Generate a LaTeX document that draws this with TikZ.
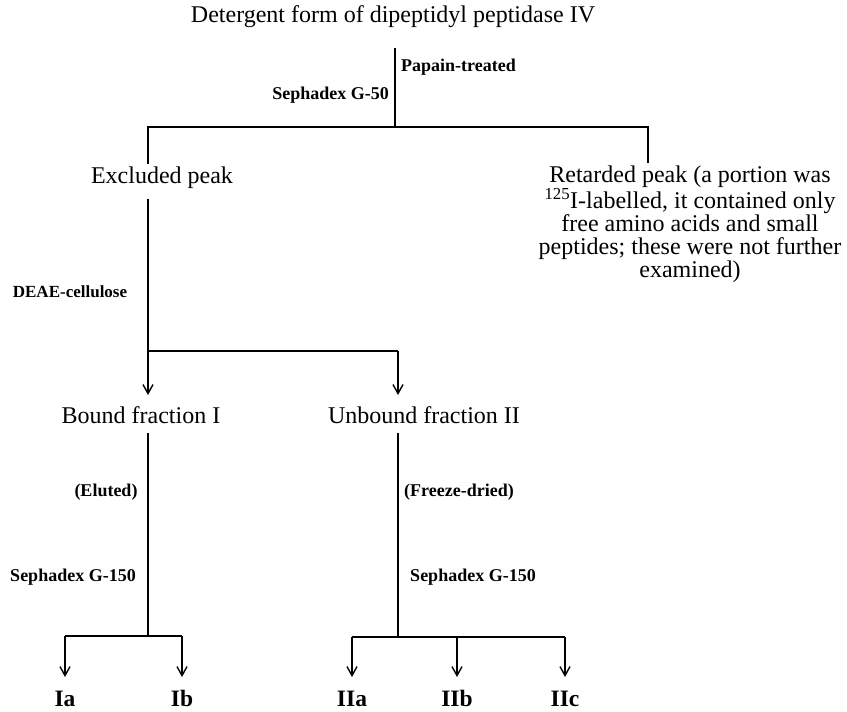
\documentclass[tikz,border=0pt]{standalone}
\usepackage{fontspec}
\setmainfont{Liberation Serif}
\usetikzlibrary{arrows.meta}
\begin{document}
\begin{tikzpicture}[x=1pt,y=-1pt,
  main/.style={font=\fontsize{24}{23}\selectfont, inner sep=0pt},
  lab/.style={font=\fontsize{18}{20}\selectfont\bfseries, inner sep=0pt},
  leaf/.style={font=\fontsize{23.5}{25}\selectfont\bfseries, inner sep=0pt, anchor=base},
  ln/.style={line width=1.7pt},
  arr/.style={ln, -{Straight Barb[length=9pt,width=10pt,line width=1.4pt]}}]
\useasboundingbox (0,0) rectangle (847,712);
% texts
\node[main] (title) at (393,17) {Detergent form of dipeptidyl peptidase IV};
\node[lab, anchor=west] (papain) at (401,67) {Papain-treated};
\node[lab, anchor=east] (g50) at (389,95) {Sephadex G-50};
\node[main] (excl) at (162,178) {Excluded peak};
\node[main, align=center] (ret) at (690,224) {Retarded peak (a portion was\\ \textsuperscript{125}I-labelled, it contained only\\ free amino acids and small\\ peptides; these were not further\\ examined)};
\node[lab, font=\fontsize{17}{20}\selectfont\bfseries] (deae) at (70,292) {DEAE-cellulose};
\node[main] (bound) at (141,415) {Bound fraction I};
\node[main] (unbound) at (424,415) {Unbound fraction II};
\node[lab] (eluted) at (106,492) {(Eluted)};
\node[lab] (freeze) at (459,492) {(Freeze-dried)};
\node[lab] (g150l) at (73,577) {Sephadex G-150};
\node[lab] (g150r) at (473,577) {Sephadex G-150};
\node[leaf] (ia) at (65,706) {Ia};
\node[leaf] (ib) at (182,706) {Ib};
\node[leaf] (iia) at (352,706) {IIa};
\node[leaf] (iib) at (457,706) {IIb};
\node[leaf] (iic) at (565,706) {IIc};
% junction coordinates
\coordinate (t0) at (395,48);
\coordinate (t1) at (395,127);
\coordinate (hl) at (148,127);
\coordinate (hr) at (648,127);
\coordinate (e0) at (148,164);
\coordinate (r0) at (648,163);
\coordinate (e1) at (148,199);
\coordinate (e2) at (148,351);
\coordinate (u2) at (398,351);
\coordinate (b0) at (148,395);
\coordinate (u0) at (398,395);
\coordinate (b1) at (148,433);
\coordinate (b2) at (148,636);
\coordinate (ia0) at (65,636);
\coordinate (ib0) at (182,636);
\coordinate (ia1) at (65,677);
\coordinate (ib1) at (182,677);
\coordinate (u1) at (398,433);
\coordinate (u3) at (398,637);
\coordinate (iia0) at (352,637);
\coordinate (iib0) at (457,637);
\coordinate (iic0) at (565,637);
\coordinate (iia1) at (352,677);
\coordinate (iib1) at (457,677);
\coordinate (iic1) at (565,677);
% connectors
\draw[ln] (t0) -- (t1);
\draw[ln] (e0) -- (hl) -- (hr) -- (r0);
\draw[ln] (e1) -- (e2) -- (u2);
\draw[arr] (e2) -- (b0);
\draw[arr] (u2) -- (u0);
\draw[ln] (b1) -- (b2);
\draw[ln] (ia0) -- (ib0);
\draw[arr] (ia0) -- (ia1);
\draw[arr] (ib0) -- (ib1);
\draw[ln] (u1) -- (u3);
\draw[ln] (iia0) -- (iic0);
\draw[arr] (iia0) -- (iia1);
\draw[arr] (iib0) -- (iib1);
\draw[arr] (iic0) -- (iic1);
\end{tikzpicture}
\end{document}
